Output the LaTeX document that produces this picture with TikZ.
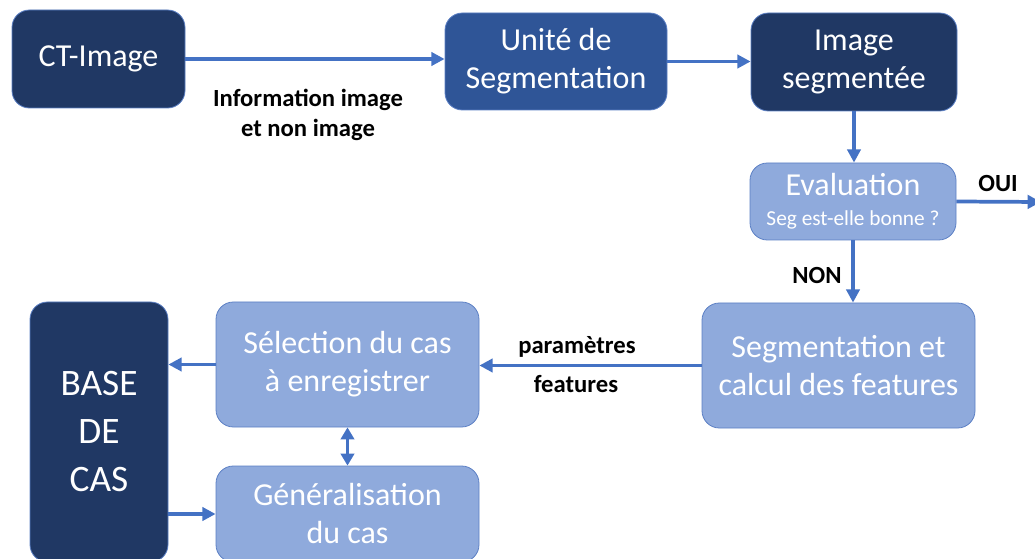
\documentclass[tikz,border=0pt]{standalone}
\usepackage{fontspec}
\setmainfont{Carlito}
\usetikzlibrary{arrows.meta}
\definecolor{navy}{HTML}{203864}
\definecolor{midblue}{HTML}{2F5597}
\definecolor{lightblue}{HTML}{8FAADC}
\definecolor{arrowblue}{HTML}{4472C4}
\definecolor{edgeblue}{HTML}{5B7FC4}
\tikzset{
  box/.style={rounded corners=13pt, draw=edgeblue, line width=0.6pt, text=white, align=center,
    inner sep=0pt, font=\fontsize{24}{28.5}\selectfont},
  darkbox/.style={box, fill=navy},
  midbox/.style={box, fill=midblue},
  lightbox/.style={box, fill=lightblue},
  lbl/.style={font=\fontsize{18.5}{22}\selectfont\bfseries, text=black, align=center, inner sep=0pt},
  conn/.style={draw=arrowblue, line width=2.8pt, -{Triangle[length=10pt,width=10pt]}},
  conn2/.style={draw=arrowblue, line width=2.8pt, {Triangle[length=9pt,width=10pt]}-{Triangle[length=9pt,width=10pt]}}
}
\begin{document}
\begin{tikzpicture}[x=0.75pt,y=-0.75pt]
\useasboundingbox (0,0) rectangle (1035,559);
\node[darkbox, minimum width=173*0.75pt, minimum height=98*0.75pt] (ct) at (98.5,59) {CT-Image};
\node[midbox, minimum width=222*0.75pt, minimum height=97*0.75pt] (unite) at (556,61.5) {Unité de\\Segmentation};
\node[darkbox, minimum width=206*0.75pt, minimum height=98*0.75pt] (imgseg) at (854,62) {Image\\segmentée};
\node[lightbox, minimum width=206*0.75pt, minimum height=77*0.75pt] (eval) at (853,201.5)
  {Evaluation\\[-6pt]{\fontsize{16}{19}\selectfont Seg est-elle bonne ?}};
\node[lightbox, minimum width=273*0.75pt, minimum height=125*0.75pt] (segcalc) at (838.5,365.5) {Segmentation et\\calcul des features};
\node[lightbox, minimum width=263*0.75pt, minimum height=125*0.75pt] (select) at (347.5,364.5) {Sélection du cas\\à enregistrer};
\node[lightbox, minimum width=263*0.75pt, minimum height=96*0.75pt] (gen) at (347.5,514) {Généralisation\\du cas};
\node[darkbox, minimum width=138*0.75pt, minimum height=260*0.75pt, font=\fontsize{28}{36}\selectfont] (base) at (99,432) {BASE\\DE\\CAS};

\node[lbl] (info) at (308,115) {Information image\\et non image};
\node[lbl] (oui) at (998,184) {OUI};
\node[lbl] (non) at (817,275) {NON};
\node[lbl] (param) at (577,347) {paramètres};
\node[lbl] (feat) at (576,384) {features};

\coordinate (out) at (1041,202);

\draw[conn] (ct.east) -- (ct.east -| unite.west);
\draw[conn] (unite.east) -- (unite.east -| imgseg.west);
\draw[conn] (imgseg.south) -- (imgseg.south |- eval.north);
\draw[conn] (eval.east) -- (out);
\draw[conn] (eval.south) -- (eval.south |- segcalc.north);
\draw[conn] (segcalc.west) -- (segcalc.west -| select.east);
\draw[conn] (select.west) -- (select.west -| base.east);
\draw[conn] (base.east |- gen.west) -- (gen.west);
\draw[conn2] (select.south) -- (gen.north);
\end{tikzpicture}
\end{document}
